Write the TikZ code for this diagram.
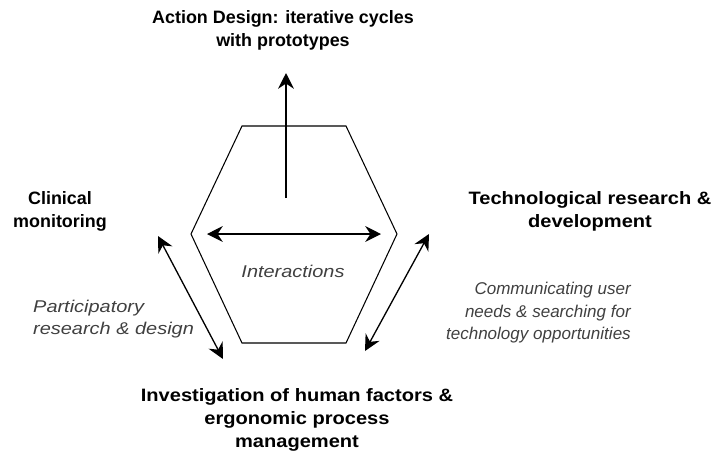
\documentclass[tikz,border=0pt]{standalone}
\usepackage{fontspec}
\setmainfont{Liberation Sans}
\newfontfamily\widesans[FakeStretch=1.12]{Liberation Sans}
\newfontfamily\widernote[FakeStretch=1.17]{Liberation Sans}
\usetikzlibrary{positioning}
\usetikzlibrary{arrows.meta}

\begin{document}
\begin{tikzpicture}[x=0.02cm,y=-0.02cm,
    title/.style={font=\fontsize{10.2}{13}\selectfont\bfseries, align=center},
    widetitle/.style={font=\widesans\fontsize{10.2}{13}\selectfont\bfseries, align=center},
    note/.style={font=\fontsize{9.7}{12.8}\selectfont\itshape, text=black!75},
    widenote/.style={font=\widernote\fontsize{9.7}{12.8}\selectfont\itshape, text=black!75},
    tip/.style={-{Stealth[length=9pt,width=9pt,inset=3pt]}},
    link/.style={line width=0.75pt, {Stealth[length=9pt,width=9pt,inset=3pt]}-{Stealth[length=9pt,width=9pt,inset=3pt]}}]
    \useasboundingbox (0,0) rectangle (714,454);
    % hexagon
    \coordinate (h1) at (242,126);
    \coordinate (h2) at (346,126);
    \coordinate (h3) at (397,234);
    \coordinate (h4) at (346,343);
    \coordinate (h5) at (242,343);
    \coordinate (h6) at (191,234);
    \path[draw, line width=0.6pt] (h1) -- (h2) -- (h3) -- (h4) -- (h5) -- (h6) -- cycle;
    % texts
    \node[title] (top) at (283,30) {Action Design: iterative cycles\\with prototypes};
    \node[title] (left) at (60,211) {Clinical\\monitoring};
    \node[widetitle] (right) at (590,211) {Technological research \&\\development};
    \node[widetitle] (bottom) at (297,420) {Investigation of human factors \&\\ergonomic process\\management};
    \node[widenote] (inter) at (293,271) {Interactions};
    \node[widenote, align=left, anchor=west] (part) at (27,319) {Participatory\\research \& design};
    \node[note, align=right, anchor=east] (comm) at (637,313) {Communicating user\\needs \& searching for\\technology opportunities};
    % arrows
    \coordinate (c) at (286,198);
    \coordinate (up) at (286,73);
    \coordinate (hl) at (207,234);
    \coordinate (hr) at (381,234);
    \coordinate (l1) at (158,236);
    \coordinate (l2) at (223,359);
    \coordinate (r1) at (429,234);
    \coordinate (r2) at (365,351);
    \path[draw, line width=0.75pt, tip] (c) -- (up);
    \path[draw, link] (hl) -- (hr);
    \path[draw, link] (l1) -- (l2);
    \path[draw, link] (r1) -- (r2);
\end{tikzpicture}
\end{document}
